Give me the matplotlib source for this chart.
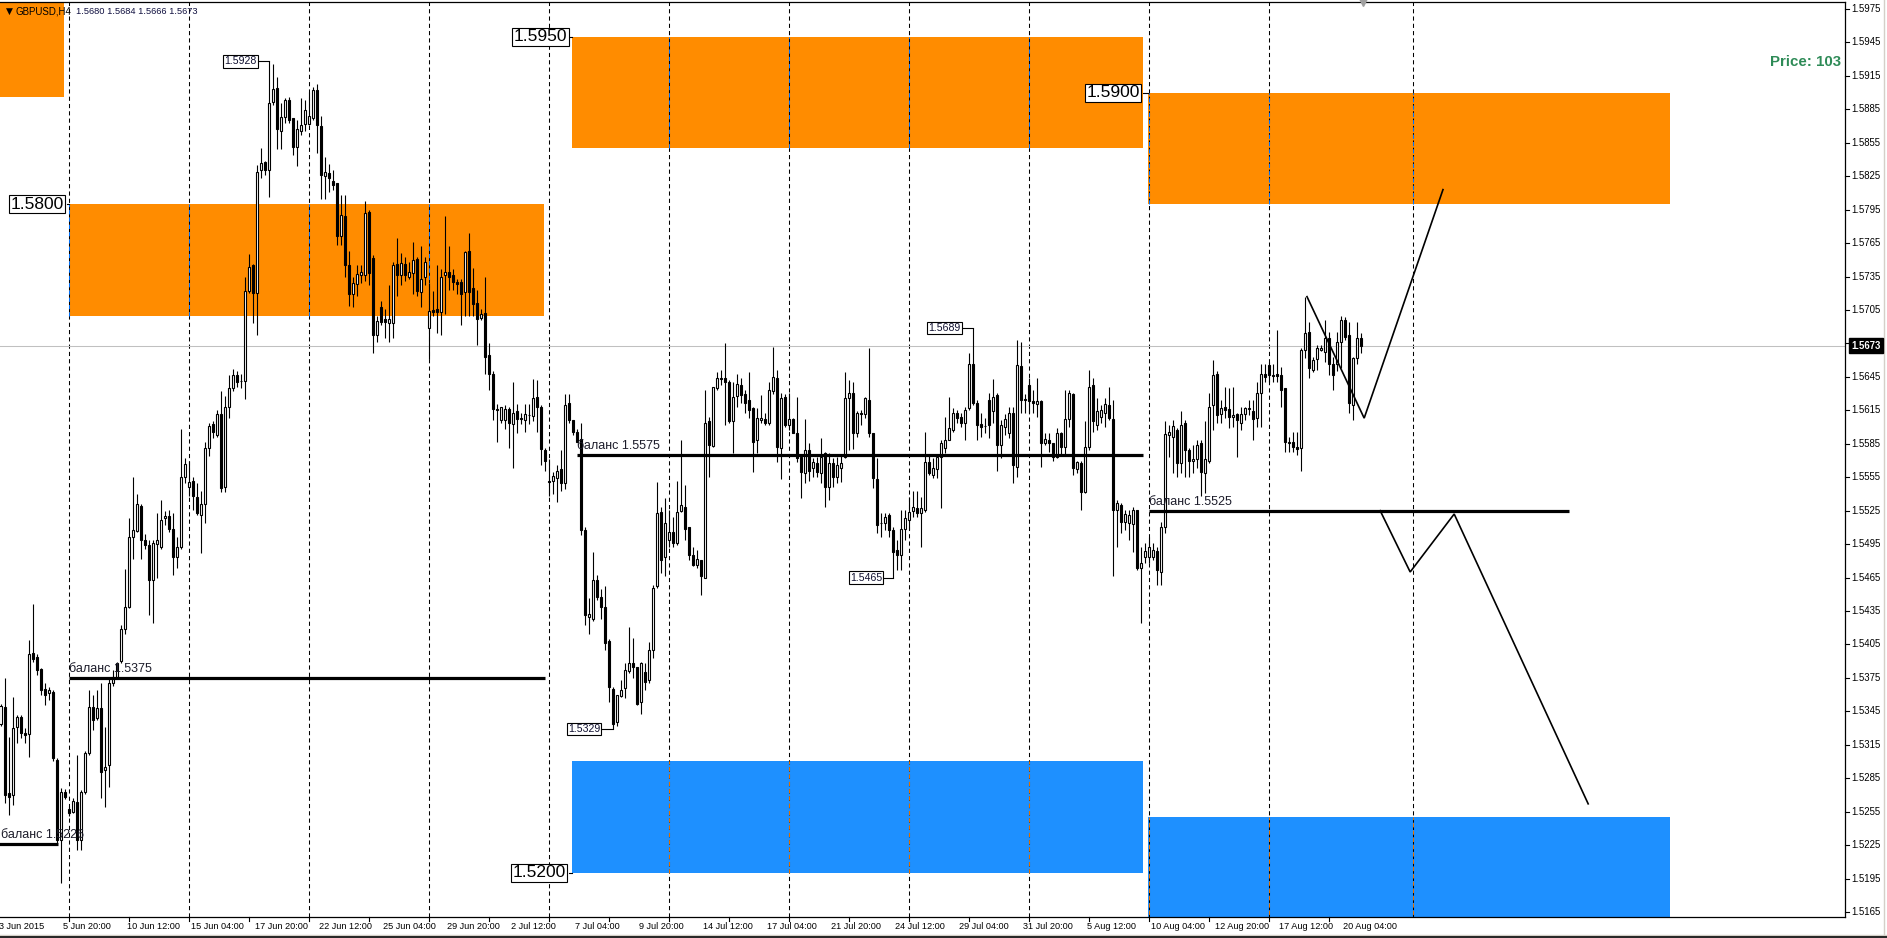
import matplotlib
matplotlib.use("Agg")
import matplotlib.pyplot as plt
import matplotlib.transforms as mtransforms
import numpy as np

W, H, DPI = 1887, 938, 100

# ---------------- data (GBPUSD H4, one value per candle) ----------------
open_ = [
 1.5334, 1.5349, 1.5272, 1.5270, 1.5331, 1.5340, 1.5326, 1.5325, 1.5397, 1.5394,
 1.5383, 1.5365, 1.5361, 1.5362, 1.5301, 1.5230, 1.5273, 1.5257, 1.5255, 1.5264,
 1.5230, 1.5273, 1.5308, 1.5349, 1.5339, 1.5348, 1.5292, 1.5297, 1.5370, 1.5376,
 1.5390, 1.5419, 1.5439, 1.5501, 1.5507, 1.5529, 1.5499, 1.5494, 1.5463, 1.5495,
 1.5492, 1.5518, 1.5520, 1.5509, 1.5483, 1.5492, 1.5555, 1.5546, 1.5552, 1.5537,
 1.5521, 1.5531, 1.5581, 1.5603, 1.5593, 1.5612, 1.5546, 1.5618, 1.5635, 1.5647,
 1.5641, 1.5641, 1.5722, 1.5745, 1.5720, 1.5831, 1.5838, 1.5831, 1.5892, 1.5904,
 1.5866, 1.5878, 1.5893, 1.5877, 1.5851, 1.5866, 1.5872, 1.5872, 1.5877, 1.5902,
 1.5870, 1.5825, 1.5828, 1.5821, 1.5819, 1.5771, 1.5789, 1.5745, 1.5719, 1.5728,
 1.5736, 1.5736, 1.5793, 1.5752, 1.5683, 1.5708, 1.5697, 1.5693, 1.5693, 1.5746,
 1.5736, 1.5746, 1.5735, 1.5738, 1.5751, 1.5721, 1.5735, 1.5689, 1.5705, 1.5706,
 1.5703, 1.5736, 1.5739, 1.5736, 1.5730, 1.5730, 1.5721, 1.5758, 1.5725, 1.5711,
 1.5698, 1.5702, 1.5665, 1.5648, 1.5616, 1.5606, 1.5606, 1.5616, 1.5603, 1.5614,
 1.5608, 1.5606, 1.5611, 1.5610, 1.5627, 1.5618, 1.5579, 1.5552, 1.5552, 1.5554,
 1.5562, 1.5550, 1.5622, 1.5606, 1.5596, 1.5589, 1.5508, 1.5430, 1.5428, 1.5463,
 1.5448, 1.5439, 1.5408, 1.5365, 1.5335, 1.5359, 1.5366, 1.5381, 1.5388, 1.5385,
 1.5353, 1.5380, 1.5373, 1.5400, 1.5457, 1.5524, 1.5483, 1.5499, 1.5506, 1.5496,
 1.5525, 1.5528, 1.5510, 1.5485, 1.5476, 1.5481, 1.5465, 1.5605, 1.5583, 1.5635,
 1.5644, 1.5644, 1.5640, 1.5605, 1.5628, 1.5638, 1.5630, 1.5624, 1.5617, 1.5588,
 1.5606, 1.5607, 1.5604, 1.5632, 1.5644, 1.5581, 1.5627, 1.5602, 1.5607, 1.5595,
 1.5573, 1.5559, 1.5579, 1.5563, 1.5568, 1.5559, 1.5577, 1.5546, 1.5568, 1.5555,
 1.5563, 1.5573, 1.5626, 1.5631, 1.5595, 1.5613, 1.5612, 1.5624, 1.5595, 1.5553,
 1.5514, 1.5514, 1.5521, 1.5508, 1.5490, 1.5485, 1.5509, 1.5517, 1.5525, 1.5527,
 1.5523, 1.5526, 1.5569, 1.5557, 1.5562, 1.5573, 1.5581, 1.5588, 1.5597, 1.5613,
 1.5609, 1.5604, 1.5617, 1.5657, 1.5622, 1.5603, 1.5601, 1.5624, 1.5614, 1.5629,
 1.5584, 1.5600, 1.5595, 1.5613, 1.5564, 1.5655, 1.5625, 1.5638, 1.5623, 1.5621,
 1.5623, 1.5586, 1.5588, 1.5586, 1.5573, 1.5595, 1.5582, 1.5607, 1.5630, 1.5562,
 1.5568, 1.5542, 1.5582, 1.5638, 1.5602, 1.5609, 1.5613, 1.5620, 1.5607, 1.5526,
 1.5530, 1.5515, 1.5514, 1.5513, 1.5526, 1.5474, 1.5483, 1.5483, 1.5483, 1.5489,
 1.5470, 1.5510, 1.5593, 1.5591, 1.5597, 1.5568, 1.5604, 1.5579, 1.5570, 1.5571,
 1.5586, 1.5559, 1.5570, 1.5620, 1.5648, 1.5612, 1.5618, 1.5616, 1.5609, 1.5612,
 1.5604, 1.5612, 1.5616, 1.5614, 1.5608, 1.5631, 1.5648, 1.5656, 1.5647, 1.5648,
 1.5647, 1.5635, 1.5586, 1.5587, 1.5582, 1.5581, 1.5669, 1.5685, 1.5651, 1.5661,
 1.5669, 1.5667, 1.5680, 1.5657, 1.5657, 1.5676, 1.5696, 1.5683, 1.5620, 1.5662,
 1.5680]
high = [
 1.5352, 1.5375, 1.5322, 1.5358, 1.5342, 1.5342, 1.5330, 1.5409, 1.5441, 1.5396,
 1.5384, 1.5370, 1.5367, 1.5364, 1.5303, 1.5276, 1.5275, 1.5260, 1.5267, 1.5306,
 1.5274, 1.5309, 1.5364, 1.5360, 1.5364, 1.5370, 1.5331, 1.5375, 1.5382, 1.5389,
 1.5422, 1.5473, 1.5518, 1.5555, 1.5540, 1.5531, 1.5504, 1.5499, 1.5499, 1.5523,
 1.5535, 1.5525, 1.5526, 1.5523, 1.5501, 1.5598, 1.5572, 1.5570, 1.5555, 1.5550,
 1.5543, 1.5587, 1.5604, 1.5605, 1.5615, 1.5632, 1.5628, 1.5647, 1.5652, 1.5650,
 1.5648, 1.5735, 1.5755, 1.5746, 1.5835, 1.5850, 1.5839, 1.5928, 1.5926, 1.5914,
 1.5891, 1.5895, 1.5896, 1.5877, 1.5875, 1.5895, 1.5893, 1.5901, 1.5905, 1.5908,
 1.5879, 1.5842, 1.5836, 1.5831, 1.5819, 1.5808, 1.5808, 1.5758, 1.5735, 1.5745,
 1.5745, 1.5803, 1.5795, 1.5754, 1.5700, 1.5713, 1.5706, 1.5727, 1.5748, 1.5770,
 1.5756, 1.5753, 1.5748, 1.5766, 1.5753, 1.5762, 1.5753, 1.5729, 1.5722, 1.5745,
 1.5742, 1.5789, 1.5762, 1.5742, 1.5733, 1.5733, 1.5758, 1.5774, 1.5743, 1.5723,
 1.5706, 1.5735, 1.5675, 1.5650, 1.5621, 1.5618, 1.5620, 1.5618, 1.5640, 1.5621,
 1.5613, 1.5621, 1.5621, 1.5643, 1.5642, 1.5620, 1.5581, 1.5571, 1.5560, 1.5566,
 1.5579, 1.5630, 1.5630, 1.5606, 1.5598, 1.5604, 1.5510, 1.5447, 1.5488, 1.5467,
 1.5455, 1.5457, 1.5410, 1.5367, 1.5360, 1.5373, 1.5388, 1.5421, 1.5411, 1.5385,
 1.5389, 1.5388, 1.5407, 1.5458, 1.5551, 1.5528, 1.5536, 1.5526, 1.5519, 1.5552,
 1.5588, 1.5548, 1.5510, 1.5492, 1.5490, 1.5481, 1.5633, 1.5609, 1.5636, 1.5649,
 1.5651, 1.5675, 1.5642, 1.5640, 1.5648, 1.5644, 1.5633, 1.5649, 1.5618, 1.5617,
 1.5629, 1.5613, 1.5640, 1.5672, 1.5651, 1.5631, 1.5630, 1.5631, 1.5608, 1.5627,
 1.5573, 1.5607, 1.5586, 1.5572, 1.5573, 1.5590, 1.5578, 1.5577, 1.5572, 1.5573,
 1.5575, 1.5649, 1.5642, 1.5640, 1.5614, 1.5615, 1.5627, 1.5671, 1.5595, 1.5572,
 1.5523, 1.5523, 1.5523, 1.5510, 1.5499, 1.5526, 1.5526, 1.5537, 1.5543, 1.5543,
 1.5537, 1.5596, 1.5575, 1.5572, 1.5575, 1.5588, 1.5609, 1.5627, 1.5617, 1.5615,
 1.5613, 1.5618, 1.5666, 1.5689, 1.5624, 1.5613, 1.5608, 1.5631, 1.5643, 1.5631,
 1.5606, 1.5612, 1.5618, 1.5618, 1.5678, 1.5676, 1.5630, 1.5644, 1.5633, 1.5644,
 1.5624, 1.5595, 1.5595, 1.5586, 1.5599, 1.5596, 1.5633, 1.5633, 1.5631, 1.5570,
 1.5570, 1.5605, 1.5651, 1.5644, 1.5626, 1.5620, 1.5626, 1.5636, 1.5624, 1.5535,
 1.5532, 1.5526, 1.5526, 1.5528, 1.5526, 1.5492, 1.5496, 1.5501, 1.5496, 1.5492,
 1.5515, 1.5605, 1.5602, 1.5606, 1.5599, 1.5614, 1.5606, 1.5581, 1.5584, 1.5588,
 1.5588, 1.5605, 1.5631, 1.5660, 1.5650, 1.5624, 1.5636, 1.5635, 1.5636, 1.5613,
 1.5618, 1.5618, 1.5624, 1.5624, 1.5640, 1.5657, 1.5657, 1.5658, 1.5657, 1.5687,
 1.5654, 1.5635, 1.5591, 1.5596, 1.5596, 1.5671, 1.5717, 1.5694, 1.5663, 1.5674,
 1.5674, 1.5696, 1.5685, 1.5663, 1.5685, 1.5700, 1.5699, 1.5694, 1.5663, 1.5694,
 1.5684]
low = [
 1.5332, 1.5263, 1.5252, 1.5261, 1.5317, 1.5321, 1.5317, 1.5304, 1.5389, 1.5378,
 1.5360, 1.5351, 1.5355, 1.5300, 1.5227, 1.5191, 1.5266, 1.5251, 1.5254, 1.5221,
 1.5221, 1.5271, 1.5306, 1.5328, 1.5337, 1.5267, 1.5259, 1.5277, 1.5368, 1.5374,
 1.5388, 1.5414, 1.5438, 1.5482, 1.5506, 1.5482, 1.5491, 1.5431, 1.5424, 1.5465,
 1.5491, 1.5512, 1.5506, 1.5467, 1.5474, 1.5491, 1.5550, 1.5538, 1.5526, 1.5521,
 1.5487, 1.5514, 1.5574, 1.5590, 1.5591, 1.5542, 1.5542, 1.5608, 1.5632, 1.5636,
 1.5635, 1.5625, 1.5720, 1.5693, 1.5683, 1.5823, 1.5826, 1.5806, 1.5889, 1.5849,
 1.5849, 1.5873, 1.5873, 1.5844, 1.5834, 1.5862, 1.5866, 1.5871, 1.5875, 1.5846,
 1.5805, 1.5805, 1.5811, 1.5813, 1.5763, 1.5763, 1.5735, 1.5709, 1.5708, 1.5718,
 1.5729, 1.5731, 1.5727, 1.5666, 1.5676, 1.5692, 1.5680, 1.5676, 1.5680, 1.5718,
 1.5727, 1.5731, 1.5733, 1.5719, 1.5718, 1.5708, 1.5727, 1.5661, 1.5700, 1.5684,
 1.5683, 1.5701, 1.5723, 1.5723, 1.5719, 1.5692, 1.5700, 1.5700, 1.5700, 1.5674,
 1.5696, 1.5648, 1.5633, 1.5606, 1.5587, 1.5604, 1.5598, 1.5581, 1.5563, 1.5595,
 1.5603, 1.5596, 1.5603, 1.5605, 1.5596, 1.5566, 1.5561, 1.5538, 1.5540, 1.5533,
 1.5543, 1.5544, 1.5604, 1.5593, 1.5587, 1.5503, 1.5422, 1.5414, 1.5426, 1.5445,
 1.5428, 1.5400, 1.5353, 1.5329, 1.5332, 1.5358, 1.5357, 1.5379, 1.5375, 1.5351,
 1.5343, 1.5364, 1.5370, 1.5393, 1.5456, 1.5469, 1.5466, 1.5492, 1.5492, 1.5494,
 1.5524, 1.5499, 1.5481, 1.5475, 1.5474, 1.5449, 1.5465, 1.5555, 1.5582, 1.5633,
 1.5638, 1.5602, 1.5604, 1.5577, 1.5618, 1.5622, 1.5613, 1.5608, 1.5560, 1.5577,
 1.5604, 1.5602, 1.5602, 1.5630, 1.5569, 1.5553, 1.5600, 1.5597, 1.5595, 1.5569,
 1.5536, 1.5550, 1.5552, 1.5555, 1.5555, 1.5550, 1.5528, 1.5535, 1.5546, 1.5550,
 1.5551, 1.5572, 1.5579, 1.5580, 1.5591, 1.5602, 1.5608, 1.5591, 1.5545, 1.5505,
 1.5501, 1.5508, 1.5501, 1.5465, 1.5472, 1.5472, 1.5499, 1.5508, 1.5519, 1.5519,
 1.5492, 1.5524, 1.5557, 1.5554, 1.5554, 1.5527, 1.5577, 1.5588, 1.5596, 1.5604,
 1.5600, 1.5588, 1.5615, 1.5620, 1.5588, 1.5591, 1.5595, 1.5590, 1.5604, 1.5561,
 1.5572, 1.5593, 1.5590, 1.5550, 1.5555, 1.5613, 1.5613, 1.5613, 1.5613, 1.5609,
 1.5564, 1.5584, 1.5578, 1.5570, 1.5572, 1.5575, 1.5575, 1.5600, 1.5557, 1.5559,
 1.5526, 1.5541, 1.5579, 1.5596, 1.5597, 1.5604, 1.5600, 1.5606, 1.5466, 1.5492,
 1.5505, 1.5508, 1.5499, 1.5488, 1.5472, 1.5424, 1.5478, 1.5478, 1.5481, 1.5458,
 1.5458, 1.5505, 1.5573, 1.5559, 1.5555, 1.5559, 1.5555, 1.5555, 1.5559, 1.5563,
 1.5538, 1.5541, 1.5568, 1.5597, 1.5604, 1.5604, 1.5608, 1.5599, 1.5600, 1.5573,
 1.5597, 1.5606, 1.5611, 1.5588, 1.5600, 1.5600, 1.5640, 1.5640, 1.5640, 1.5640,
 1.5618, 1.5578, 1.5578, 1.5578, 1.5575, 1.5561, 1.5662, 1.5644, 1.5649, 1.5651,
 1.5668, 1.5658, 1.5647, 1.5633, 1.5650, 1.5653, 1.5678, 1.5613, 1.5606, 1.5657,
 1.5666]
close = [
 1.5350, 1.5270, 1.5268, 1.5330, 1.5340, 1.5326, 1.5324, 1.5396, 1.5392, 1.5382,
 1.5364, 1.5360, 1.5364, 1.5303, 1.5230, 1.5273, 1.5268, 1.5254, 1.5265, 1.5230,
 1.5273, 1.5308, 1.5349, 1.5337, 1.5348, 1.5291, 1.5295, 1.5370, 1.5376, 1.5388,
 1.5419, 1.5439, 1.5501, 1.5508, 1.5531, 1.5499, 1.5494, 1.5463, 1.5496, 1.5499,
 1.5517, 1.5520, 1.5509, 1.5483, 1.5492, 1.5555, 1.5567, 1.5551, 1.5538, 1.5523,
 1.5531, 1.5581, 1.5601, 1.5596, 1.5612, 1.5545, 1.5618, 1.5635, 1.5647, 1.5640,
 1.5641, 1.5722, 1.5744, 1.5720, 1.5829, 1.5837, 1.5831, 1.5891, 1.5903, 1.5867,
 1.5878, 1.5893, 1.5875, 1.5851, 1.5867, 1.5871, 1.5884, 1.5879, 1.5902, 1.5871,
 1.5826, 1.5829, 1.5823, 1.5817, 1.5771, 1.5790, 1.5745, 1.5719, 1.5729, 1.5737,
 1.5739, 1.5792, 1.5738, 1.5683, 1.5695, 1.5694, 1.5694, 1.5697, 1.5745, 1.5736,
 1.5747, 1.5736, 1.5739, 1.5750, 1.5722, 1.5733, 1.5748, 1.5704, 1.5703, 1.5703,
 1.5735, 1.5739, 1.5735, 1.5730, 1.5728, 1.5719, 1.5757, 1.5721, 1.5710, 1.5697,
 1.5701, 1.5663, 1.5648, 1.5616, 1.5615, 1.5618, 1.5616, 1.5604, 1.5613, 1.5607,
 1.5607, 1.5612, 1.5611, 1.5626, 1.5618, 1.5580, 1.5570, 1.5551, 1.5556, 1.5561,
 1.5550, 1.5620, 1.5606, 1.5596, 1.5587, 1.5508, 1.5431, 1.5432, 1.5463, 1.5448,
 1.5439, 1.5406, 1.5367, 1.5334, 1.5360, 1.5364, 1.5382, 1.5388, 1.5385, 1.5352,
 1.5388, 1.5371, 1.5400, 1.5456, 1.5523, 1.5481, 1.5514, 1.5506, 1.5496, 1.5524,
 1.5530, 1.5509, 1.5485, 1.5476, 1.5482, 1.5466, 1.5604, 1.5584, 1.5636, 1.5644,
 1.5643, 1.5640, 1.5605, 1.5627, 1.5639, 1.5629, 1.5622, 1.5615, 1.5587, 1.5608,
 1.5608, 1.5604, 1.5633, 1.5645, 1.5582, 1.5626, 1.5602, 1.5607, 1.5595, 1.5572,
 1.5560, 1.5579, 1.5561, 1.5569, 1.5560, 1.5573, 1.5546, 1.5568, 1.5555, 1.5566,
 1.5568, 1.5626, 1.5631, 1.5595, 1.5613, 1.5612, 1.5626, 1.5595, 1.5554, 1.5512,
 1.5514, 1.5519, 1.5508, 1.5488, 1.5485, 1.5509, 1.5518, 1.5524, 1.5528, 1.5523,
 1.5527, 1.5569, 1.5559, 1.5563, 1.5573, 1.5586, 1.5588, 1.5599, 1.5613, 1.5608,
 1.5604, 1.5615, 1.5657, 1.5622, 1.5602, 1.5600, 1.5601, 1.5602, 1.5627, 1.5584,
 1.5602, 1.5607, 1.5613, 1.5566, 1.5656, 1.5624, 1.5624, 1.5623, 1.5622, 1.5623,
 1.5586, 1.5589, 1.5586, 1.5573, 1.5595, 1.5582, 1.5607, 1.5631, 1.5563, 1.5569,
 1.5542, 1.5582, 1.5636, 1.5605, 1.5614, 1.5615, 1.5621, 1.5608, 1.5526, 1.5532,
 1.5515, 1.5522, 1.5521, 1.5526, 1.5474, 1.5478, 1.5489, 1.5492, 1.5490, 1.5472,
 1.5510, 1.5594, 1.5596, 1.5601, 1.5568, 1.5602, 1.5579, 1.5570, 1.5571, 1.5584,
 1.5560, 1.5571, 1.5618, 1.5647, 1.5611, 1.5617, 1.5615, 1.5609, 1.5611, 1.5606,
 1.5612, 1.5617, 1.5617, 1.5607, 1.5631, 1.5648, 1.5645, 1.5647, 1.5646, 1.5646,
 1.5633, 1.5587, 1.5587, 1.5582, 1.5580, 1.5669, 1.5684, 1.5653, 1.5660, 1.5671,
 1.5671, 1.5680, 1.5657, 1.5647, 1.5676, 1.5696, 1.5681, 1.5622, 1.5662, 1.5680,
 1.5673]

time_labels = ["3 Jun 2015", "5 Jun 20:00", "10 Jun 12:00", "15 Jun 04:00", "17 Jun 20:00",
               "22 Jun 12:00", "25 Jun 04:00", "29 Jun 20:00", "2 Jul 12:00", "7 Jul 04:00",
               "9 Jul 20:00", "14 Jul 12:00", "17 Jul 04:00", "21 Jul 20:00", "24 Jul 12:00",
               "29 Jul 04:00", "31 Jul 20:00", "5 Aug 12:00", "10 Aug 04:00", "12 Aug 20:00",
               "17 Aug 12:00", "20 Aug 04:00"]
label_every = 16          # bars between time labels
grid_bars = [17, 47, 77, 107, 137, 167, 197, 227, 257, 287, 317, 353]   # week separators
tick_first, tick_every, tick_last = 17, 15, 340

# price scale
price_top, price_bottom, price_step = 1.5975, 1.5165, 0.0030
ylim = (1.51605, 1.59813)
xlim = (-0.125, 461.1)

# supply / demand zones  (bar index start, end, price low, price high)
zone_start = [-2.0, 17.0, 142.9, 286.9, 142.9, 286.9]
zone_end   = [15.9, 135.9, 285.6, 417.4, 285.6, 417.4]
zone_low   = [1.5896, 1.5700, 1.5850, 1.5800, 1.5200, 1.5150]
zone_high  = [1.6100, 1.5800, 1.5950, 1.5900, 1.5300, 1.5250]
zone_color = ["#FF8C00", "#FF8C00", "#FF8C00", "#FF8C00", "#1E90FF", "#1E90FF"]

# zone level tags
tag_text  = ["1.5800", "1.5950", "1.5900", "1.5200"]
tag_price = [1.5800, 1.5950, 1.5900, 1.5200]
tag_right = [16.6, 142.4, 285.6, 142.0]
tag_anchor = [17.0, 142.9, 286.9, 142.9]

# balance lines
bal_start = [-1.0, 17.0, 144.0, 287.0]
bal_end   = [14.4, 136.0, 285.6, 392.0]
bal_price = [1.5226, 1.5375, 1.5575, 1.5525]
bal_text  = ["баланс 1.5226", "баланс 1.5375", "баланс 1.5575", "баланс 1.5525"]

# extreme-price tags
ext_text  = ["1.5928", "1.5689", "1.5465", "1.5329"]
ext_bar   = [67, 243, 223, 153]
ext_right = [64.6, 240.6, 220.9, 150.4]

# hand-drawn forecast paths (bar index, price)
path1_x = [326.6, 340.9, 360.6]
path1_y = [1.5717, 1.5608, 1.5813]
path2_x = [344.9, 352.4, 363.4, 396.9]
path2_y = [1.5525, 1.5470, 1.5522, 1.5262]

header_sym = "GBPUSD,H4"
header_vals = "1.5680 1.5684 1.5666 1.5673"
bid = 1.5673
price_tag = "Price: 103"

# ---------------- drawing ----------------
FONT = ["Liberation Sans", "DejaVu Sans"]
plt.rcParams["font.family"] = FONT

fig = plt.figure(figsize=(W / DPI, H / DPI), dpi=DPI)
fig.patch.set_facecolor("white")
ax_left, ax_right_px, ax_top_px, ax_bot_px = 0, 1845, 2, 917
ax = fig.add_axes([ax_left / W, 1 - ax_bot_px / H, (ax_right_px - ax_left) / W,
                   (ax_bot_px - ax_top_px) / H])
ax.set_xlim(*xlim)
ax.set_ylim(*ylim)
ax.set_xticks([])
ax.set_yticks([])
ax.spines["left"].set_visible(False)
for s in ("top", "right", "bottom"):
    ax.spines[s].set_linewidth(0.9)
    ax.spines[s].set_color("black")

n = len(close)
idx = np.arange(n)
o = np.array(open_); c = np.array(close)
h = np.maximum(np.array(high), np.maximum(o, c))
l = np.minimum(np.array(low), np.minimum(o, c))

# zones
for xs, xe, lo, hi, col in zip(zone_start, zone_end, zone_low, zone_high, zone_color):
    ax.add_patch(plt.Rectangle((xs, lo), xe - xs, hi - lo, facecolor=col,
                               edgecolor="none", zorder=1))

# dashed vertical grid (inverted colour inside zones)
dash = (0, (4, 3))
for g in grid_bars:
    ax.axvline(g, color="black", lw=0.75, ls=dash, zorder=2)
    for xs, xe, lo, hi, col in zip(zone_start, zone_end, zone_low, zone_high, zone_color):
        if xs <= g <= xe:
            rgb = np.array(matplotlib.colors.to_rgb(col))
            ax.plot([g, g], [lo, hi], color=tuple(1 - rgb), lw=0.75, ls=dash, zorder=2.1)

# bid line
ax.axhline(bid, color="#C0C0C0", lw=0.75, zorder=2)

# candles
ax.vlines(idx, l, h, color="black", lw=0.8, zorder=3)
up = c >= o
body_w = 0.5
ax.bar(idx[up], (c - o)[up], bottom=o[up], width=body_w, color="white",
       edgecolor="black", linewidth=0.8, zorder=4)
ax.bar(idx[~up], (o - c)[~up], bottom=c[~up], width=body_w, color="black",
       edgecolor="black", linewidth=0.8, zorder=4)

# balance lines + labels
for xs, xe, p, t in zip(bal_start, bal_end, bal_price, bal_text):
    ax.plot([xs, xe], [p, p], color="black", lw=2.3, solid_capstyle="butt", zorder=5)
    ax.annotate(t, (max(xs, 0.0), p), xytext=(0, 3), textcoords="offset pixels",
                fontsize=9.0, color="#1c1c2a", ha="left", va="bottom", zorder=6)

# forecast paths
ax.plot(path1_x, path1_y, color="black", lw=1.2, zorder=5, solid_joinstyle="miter")
ax.plot(path2_x, path2_y, color="black", lw=1.2, zorder=5, solid_joinstyle="miter")

# zone tags
for t, p, xr, xa in zip(tag_text, tag_price, tag_right, tag_anchor):
    ax.plot([xr, xa], [p, p], color="black", lw=0.8, zorder=6)
    ax.annotate(t, (xr, p), xytext=(-3, 0), textcoords="offset pixels", ha="right",
                va="center", fontsize=12.5, color="black", zorder=7,
                bbox=dict(boxstyle="square,pad=0.08", fc="white", ec="black", lw=0.8))

# extreme tags
for t, b, xr in zip(ext_text, ext_bar, ext_right):
    p = float(t)
    ax.plot([xr, b], [p, p], color="black", lw=0.8, zorder=6)
    ax.annotate(t, (xr, p), xytext=(-2, 0), textcoords="offset pixels", ha="right",
                va="center", fontsize=7.6, color="#101030", zorder=7,
                bbox=dict(boxstyle="square,pad=0.12", fc="white", ec="black", lw=0.8))

# right price axis
ytr = mtransforms.blended_transform_factory(fig.transFigure, ax.transData)
for p in np.arange(price_bottom, price_top + 1e-9, price_step):
    fig.add_artist(plt.Line2D([1845 / W, 1849 / W], [p, p], transform=ytr, color="black", lw=0.8))
    fig.text(1851 / W, p, f"{p:.4f}", transform=ytr, fontsize=6.9, ha="left",
             va="center", color="black")
fig.text(1851 / W, bid, f"{bid:.4f}", transform=ytr, fontsize=6.9, ha="left", va="center",
         color="white", fontweight="bold",
         bbox=dict(boxstyle="square,pad=0.25", fc="black", ec="black"))

# time axis
xtr = mtransforms.blended_transform_factory(ax.transData, fig.transFigure)
for k, lab in enumerate(time_labels):
    fig.text(k * label_every - 0.4, 1 - 926 / H, lab, transform=xtr, fontsize=6.6,
             ha="left", va="center", color="black")
for t in range(tick_first, tick_last + 1, tick_every):
    fig.add_artist(plt.Line2D([t, t], [1 - 917 / H, 1 - 921 / H], transform=xtr,
                              color="black", lw=0.8))

# window frame lines
fig.add_artist(plt.Line2D([0, 1], [1 - 934.5 / H] * 2, color="#D4D0C8", lw=1.0))
fig.add_artist(plt.Line2D([0, 1], [1 - 937 / H] * 2, color="black", lw=1.2))
fig.add_artist(plt.Line2D([1883.5 / W] * 2, [1 - 934 / H, 1], color="#D4D0C8", lw=1.0))

# header
fig.text(6 / W, 1 - 11 / H, "▼", fontsize=6.5, color="black", va="center", ha="left",
         family=["DejaVu Sans"])
fig.text(16 / W, 1 - 11 / H, header_sym, fontsize=7.0, color="black", va="center", ha="left")
fig.text(76 / W, 1 - 11 / H, header_vals, fontsize=6.7, color="#101040", va="center", ha="left")

# info label
fig.text(1841 / W, 1 - 62 / H, price_tag, fontsize=10.8, fontweight="bold",
         color="#2E8B57", ha="right", va="center")

# chart-shift marker
ax.plot([n - 0.4], [ylim[1]], marker="v", color="#A0A0A0", markersize=6,
        clip_on=False, zorder=8)

fig.savefig("out.png", dpi=DPI, facecolor="white")
